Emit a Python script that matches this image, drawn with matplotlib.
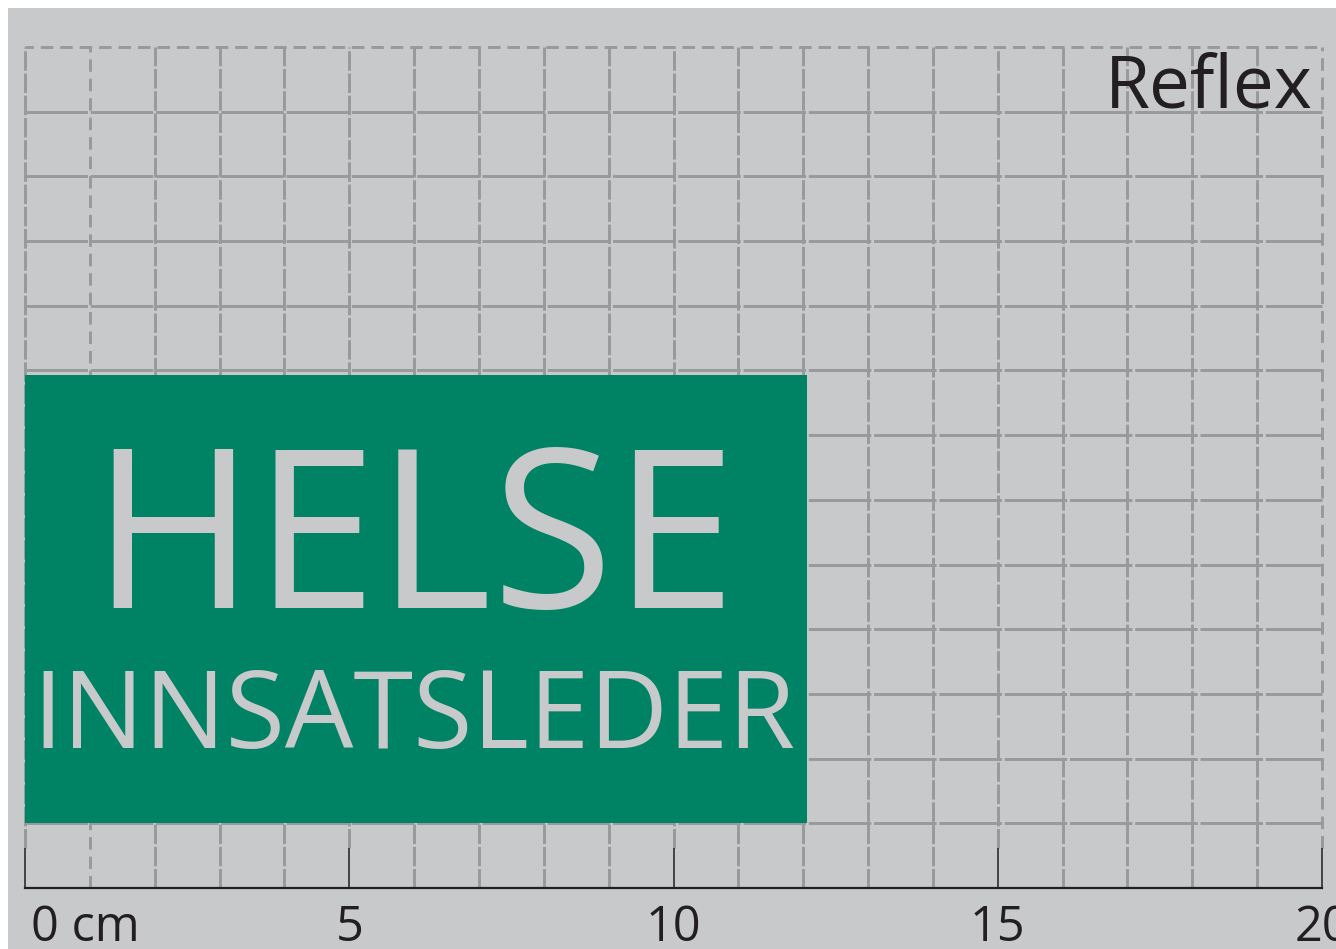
import matplotlib
matplotlib.use("Agg")
import matplotlib.pyplot as plt
import matplotlib.transforms as mtransforms
from matplotlib.patches import Rectangle

plt.rcParams['font.family'] = ['Open Sans', 'DejaVu Sans']
plt.rcParams['lines.scale_dashes'] = False

# ruler, in cm
ruler_ticks = [0, 5, 10, 15, 20]
ruler_labels = ["0 cm", "5", "10", "15", "20"]
tick_top = 0.62

# grid lines (cm)
v_solid = [2, 3, 4, 6, 7, 8, 9, 11, 12, 13, 14, 16, 17, 18, 19]
v_solid_major = [0, 5, 10, 15]
v_dashed = [1]
v_dashed_major = [20]
h_solid = [1, 2, 3, 4, 5, 6, 7, 8, 9, 10, 11, 12]
h_dashed = [13]

# the sign
sign_left, sign_bottom = 0, 1
sign_width, sign_height = 12.06, 6.93
sign_title = "HELSE"
sign_sub = "INNSATSLEDER"
brand = "Reflex"

bg = "#c8c9cb"
grid_col = "#98999b"
green = "#008264"
ink = "#231f20"

W, H = 1336, 949
fig = plt.figure(figsize=(W / 100, H / 100), dpi=100, facecolor="white")
fig.patches.append(Rectangle((8 / W, 0), 1, (H - 8) / H, transform=fig.transFigure,
                             facecolor=bg, edgecolor="none", zorder=-10))

ax = fig.add_axes([25 / W, (H - 888) / H, (1322 - 25) / W, (888 - 47) / H])
ax.set_zorder(1)
ax.set_axisbelow(False)
ax.set_xlim(0, 20)
ax.set_ylim(0, 13)
ax.patch.set_visible(False)
for s in ["top", "left", "right"]:
    ax.spines[s].set_visible(False)
ax.spines["bottom"].set_color(ink)
ax.spines["bottom"].set_linewidth(1.6)

# grid
solid = [(0, (14, 2))]
dashed = [(0, (9, 5))]
kw = dict(colors=grid_col, linewidth=2.1, zorder=2, clip_on=False)
ax.vlines(v_solid, 0, 13, linestyles=solid, **kw)
ax.vlines(v_solid_major, tick_top, 13, linestyles=solid, **kw)
ax.vlines(v_dashed, 0, 13, linestyles=dashed, **kw)
ax.vlines(v_dashed_major, tick_top, 13, linestyles=dashed, **kw)
ax.hlines(h_solid, 0, 20, linestyles=[(0, (45, 2))], **kw)
ax.hlines(h_dashed, 0, 20, linestyles=[(3, (9, 5))], **kw)

# green sign
ax.add_patch(Rectangle((sign_left, sign_bottom), sign_width, sign_height,
                       facecolor=green, edgecolor="none", zorder=3))
cx = sign_left + 6
ax.text(cx, 4.33, sign_title, ha="center", va="baseline", fontsize=159, color=bg, zorder=4)
ax.text(cx, 2.16, sign_sub, ha="center", va="baseline", fontsize=78, color=bg, zorder=4)
ax.text(19.85, 12.07, brand, ha="right", va="baseline", fontsize=52.5, color=ink, zorder=4)

# ruler
ax.set_yticks([])
ax.set_xticks(ruler_ticks, ruler_labels)
ax.tick_params(axis="x", direction="in", length=29, width=1.1, color=ink,
               pad=11, labelsize=35, labelcolor=ink)
first = ax.get_xticklabels()[0]
first.set_horizontalalignment("left")
first.set_transform(first.get_transform() + mtransforms.ScaledTranslation(0.06, 0, fig.dpi_scale_trans))

fig.savefig("out.png", dpi=100, facecolor="white")
